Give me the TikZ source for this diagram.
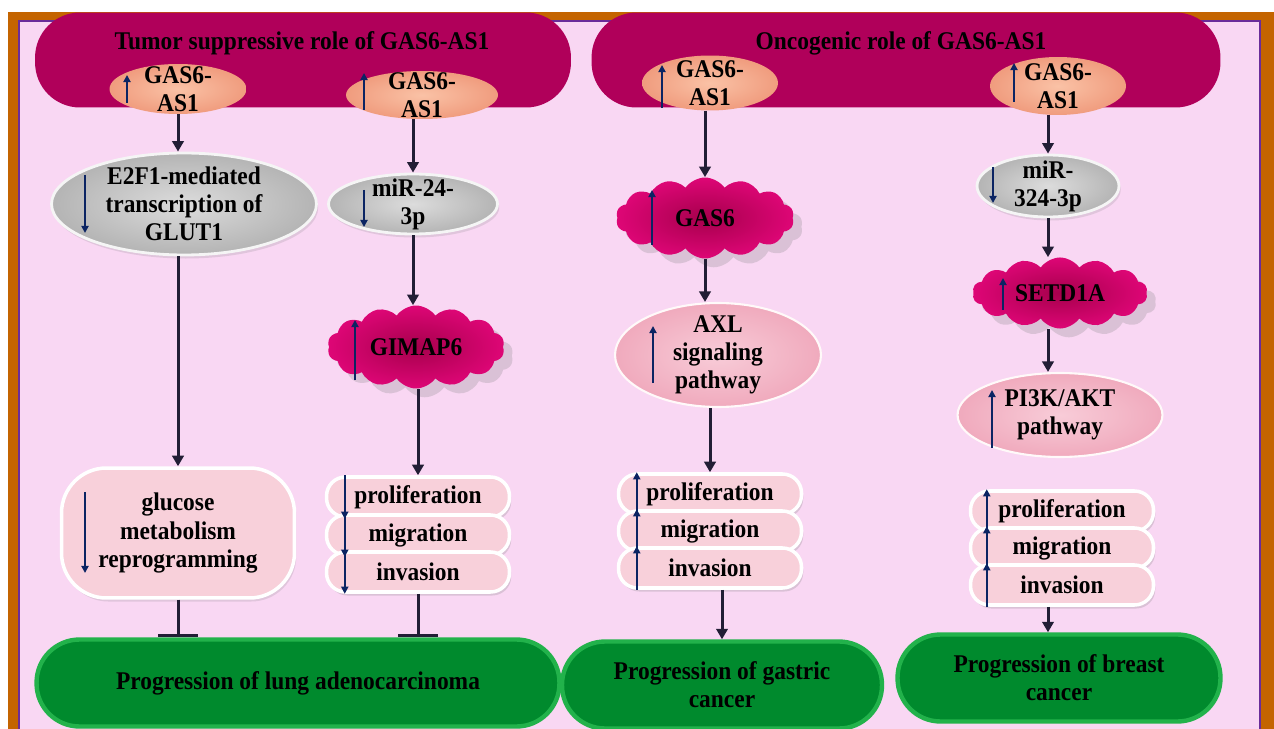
\documentclass[tikz,border=0pt]{standalone}
\usepackage{fontspec}
\setmainfont{Liberation Serif}[FakeStretch=0.92]
\usetikzlibrary{arrows.meta,calc,shapes.geometric,shapes.symbols,shadows}

\definecolor{bgpink}{HTML}{F9D7F3}
\definecolor{frameorange}{HTML}{C46400}
\definecolor{framepurple}{HTML}{6A2C9A}
\definecolor{bannerred}{HTML}{B0005A}
\definecolor{salmonin}{HTML}{FAC2A6}
\definecolor{salmonout}{HTML}{F09C7E}
\definecolor{greyin}{HTML}{DCDCDC}
\definecolor{greyout}{HTML}{B4B4B4}
\definecolor{pinkin}{HTML}{F8CCD8}
\definecolor{pinkout}{HTML}{F0AABD}
\definecolor{pillfill}{HTML}{F8D0DA}
\definecolor{cloudin}{HTML}{A6004C}
\definecolor{cloudout}{HTML}{DE0676}
\definecolor{greenfill}{HTML}{008A2D}
\definecolor{greenline}{HTML}{22B24B}
\definecolor{arrdark}{HTML}{221E35}
\definecolor{navy}{HTML}{0B2463}

\newcommand{\lblfont}{\fontsize{14.5pt}{16pt}\selectfont\bfseries}

\begin{document}
\begin{tikzpicture}[x=0.02cm, y=-0.02cm,
  every node/.style={font=\lblfont, text=black, align=center},
  banner/.style={rectangle, rounded corners=0.9cm, fill=bannerred, minimum height=1.9cm},
  rna/.style={ellipse, inner xsep=0pt, inner ysep=-8pt, shading=radial,
    inner color=salmonin, outer color=salmonout},
  mirna/.style={ellipse, inner xsep=0pt, inner ysep=-8pt, shading=radial,
    inner color=greyin, outer color=greyout, draw=white!92!gray, line width=1.6pt,
    drop shadow={opacity=0.2, shadow xshift=1pt, shadow yshift=-2pt}},
  pathway/.style={ellipse, inner xsep=0pt, inner ysep=-8pt, shading=radial,
    inner color=pinkin, outer color=pinkout, draw=white!90!pink, line width=1.2pt},
  prot/.style={cloud, cloud puffs=14, cloud puff arc=110, aspect=2.2, inner sep=0pt,
    shading=radial, inner color=cloudin, outer color=cloudout,
    drop shadow={opacity=0.25, shadow xshift=5pt, shadow yshift=-5pt}},
  metabox/.style={rectangle, rounded corners=0.9cm, fill=pillfill, draw=white,
    line width=2pt, minimum width=4.66cm, minimum height=2.6cm,
    drop shadow={opacity=0.2, shadow xshift=1pt, shadow yshift=-2pt}},
  pill/.style={rectangle, rounded corners=0.38cm, fill=pillfill, draw=white,
    line width=2pt, minimum width=3.66cm, minimum height=0.8cm, inner sep=0pt,
    drop shadow={opacity=0.25, shadow xshift=1pt, shadow yshift=-2pt}},
  outcome/.style={rectangle, rounded corners=0.86cm, fill=greenfill, draw=greenline,
    line width=2.5pt, minimum height=1.74cm},
  arr/.style={draw=arrdark, line width=0.06cm, -{Triangle[length=6pt,width=6.5pt]}},
  inhib/.style={draw=arrdark, line width=0.06cm, -{Bar[width=0.8cm]}},
  upd/.style={draw=navy, line width=1.1pt, -{Triangle[length=4pt,width=4pt]}}]

  \useasboundingbox (0,0) rectangle (1274,729);

  % frame and background
  \fill[white] (0,0) rectangle (1274,729);
  \fill[frameorange] (8,12) rectangle (1274,740);
  \filldraw[fill=bgpink, draw=framepurple, line width=0.8pt] (19,21) rectangle (1260,740);

  % banners
  \node[banner, minimum width=10.72cm] (ban1) at (303,60) {};
  \node[banner, minimum width=12.58cm] (ban2) at (906,60) {};
  \node (ttl1) at (302,43) {Tumor suppressive role of GAS6-AS1};
  \node (ttl2) at (901,43) {Oncogenic role of GAS6-AS1};

  % lung adenocarcinoma, first branch
  \node[rna, minimum width=2.74cm, minimum height=1cm] (lnc1) at (178,89) {GAS6-\\AS1};
  \node[mirna, minimum width=5.3cm, minimum height=2.04cm] (e2f) at (184,204) {E2F1-mediated\\transcription of\\GLUT1};
  \node[metabox] (gluc) at (178,533) {glucose\\metabolism\\reprogramming};

  % lung adenocarcinoma, second branch
  \node[rna, minimum width=3.04cm, minimum height=0.96cm] (lnc2) at (422,95) {GAS6-\\AS1};
  \node[mirna, minimum width=3.38cm, minimum height=1.2cm] (mir24) at (413,204) {miR-24-\\3p};
  \node[prot, minimum width=3.54cm, minimum height=1.66cm] (gimap) at (416,347) {GIMAP6};
  \node[pill] (pro2) at (418,497) {proliferation};
  \node[pill] (mig2) at (418,535) {migration};
  \node[pill] (inv2) at (418,572) {invasion};

  % gastric cancer
  \node[rna, minimum width=2.72cm, minimum height=1.1cm] (lnc3) at (710,83) {GAS6-\\AS1};
  \node[prot, minimum width=3.56cm, minimum height=1.62cm] (gas) at (705,218) {GAS6};
  \node[pathway, minimum width=4.12cm, minimum height=2.08cm] (axl) at (718,355) {AXL\\signaling\\pathway};
  \node[pill] (pro3) at (710,494) {proliferation};
  \node[pill] (mig3) at (710,531) {migration};
  \node[pill] (inv3) at (710,568) {invasion};

  % breast cancer
  \node[rna, minimum width=2.72cm, minimum height=1.16cm] (lnc4) at (1058,86) {GAS6-\\AS1};
  \node[mirna, minimum width=2.84cm, minimum height=1.24cm] (mir324) at (1048,186) {miR-\\324-3p};
  \node[prot, minimum width=3.5cm, minimum height=1.14cm] (setd) at (1060,293) {SETD1A};
  \node[pathway, minimum width=4.1cm, minimum height=1.68cm] (pik) at (1060,415) {PI3K/AKT\\pathway};
  \node[pill] (pro4) at (1062,511) {proliferation};
  \node[pill] (mig4) at (1062,548) {migration};
  \node[pill] (inv4) at (1062,585) {invasion};

  % outcomes
  \node[outcome, minimum width=10.46cm] (lung) at (298,683) {Progression of lung adenocarcinoma};
  \node[outcome, minimum width=6.4cm] (gastric) at (722,685) {Progression of gastric\\cancer};
  \node[outcome, minimum width=6.46cm] (breast) at (1059,678) {Progression of breast\\cancer};

  % up and down marks
  \draw[upd] ($(lnc1)+(-51,14)$) -- ($(lnc1)+(-51,-14)$);
  \draw[upd] ($(lnc2)+(-58,15)$) -- ($(lnc2)+(-58,-22)$);
  \draw[upd] ($(lnc3)+(-48,25)$) -- ($(lnc3)+(-48,-18)$);
  \draw[upd] ($(lnc4)+(-44,16)$) -- ($(lnc4)+(-44,-23)$);
  \draw[upd] ($(e2f)+(-99,-29)$) -- ($(e2f)+(-99,29)$);
  \draw[upd] ($(mir24)+(-49,-14)$) -- ($(mir24)+(-49,23)$);
  \draw[upd] ($(mir324)+(-55,-19)$) -- ($(mir324)+(-55,17)$);
  \draw[upd] ($(gluc)+(-93,-41)$) -- ($(gluc)+(-93,40)$);
  \draw[upd] ($(gimap)+(-61,33)$) -- ($(gimap)+(-61,-27)$);
  \draw[upd] ($(gas)+(-53,27)$) -- ($(gas)+(-53,-28)$);
  \draw[upd] ($(setd)+(-57,17)$) -- ($(setd)+(-57,-15)$);
  \draw[upd] ($(axl)+(-65,28)$) -- ($(axl)+(-65,-29)$);
  \draw[upd] ($(pik)+(-68,33)$) -- ($(pik)+(-68,-25)$);
  \foreach \p in {pro2,mig2,inv2}
    \draw[upd] ([xshift=0.4cm]\p.north west) -- ([xshift=0.4cm]\p.south west);
  \foreach \p in {pro3,mig3,inv3}
    \draw[upd] ([xshift=0.4cm]\p.south west) -- ([xshift=0.4cm]\p.north west);
  \foreach \p in {pro4,mig4,inv4}
    \draw[upd] ([xshift=0.36cm]\p.south west) -- ([xshift=0.36cm]\p.north west);

  % connectors
  \draw[arr] (lnc1.south) -- (lnc1.south |- e2f.north);
  \draw[arr] (e2f.south -| gluc.north) -- (gluc.north);
  \draw[inhib] (gluc.south) -- (gluc.south |- lung.north);

  \draw[arr] (lnc2.south -| mir24.north) -- (mir24.north);
  \draw[arr] (mir24.south) -- (mir24.south |- gimap.north);
  \draw[arr] (gimap.south -| pro2.north) -- (pro2.north);
  \draw[inhib] (inv2.south) -- (inv2.south |- lung.north);

  \draw[arr] (lnc3.south -| gas.north) -- (gas.north);
  \draw[arr] (gas.south) -- (gas.south |- axl.north);
  \draw[arr] (axl.south -| pro3.north) -- (pro3.north);
  \draw[arr] (inv3.south -| gastric.north) -- (gastric.north);

  \draw[arr] (lnc4.south -| mir324.north) -- (mir324.north);
  \draw[arr] (mir324.south) -- (mir324.south |- setd.north);
  \draw[arr] (mir324.south |- setd.south) -- (mir324.south |- pik.north);
  \draw[arr] (mir324.south |- inv4.south) -- (mir324.south |- breast.north);
\end{tikzpicture}
\end{document}
